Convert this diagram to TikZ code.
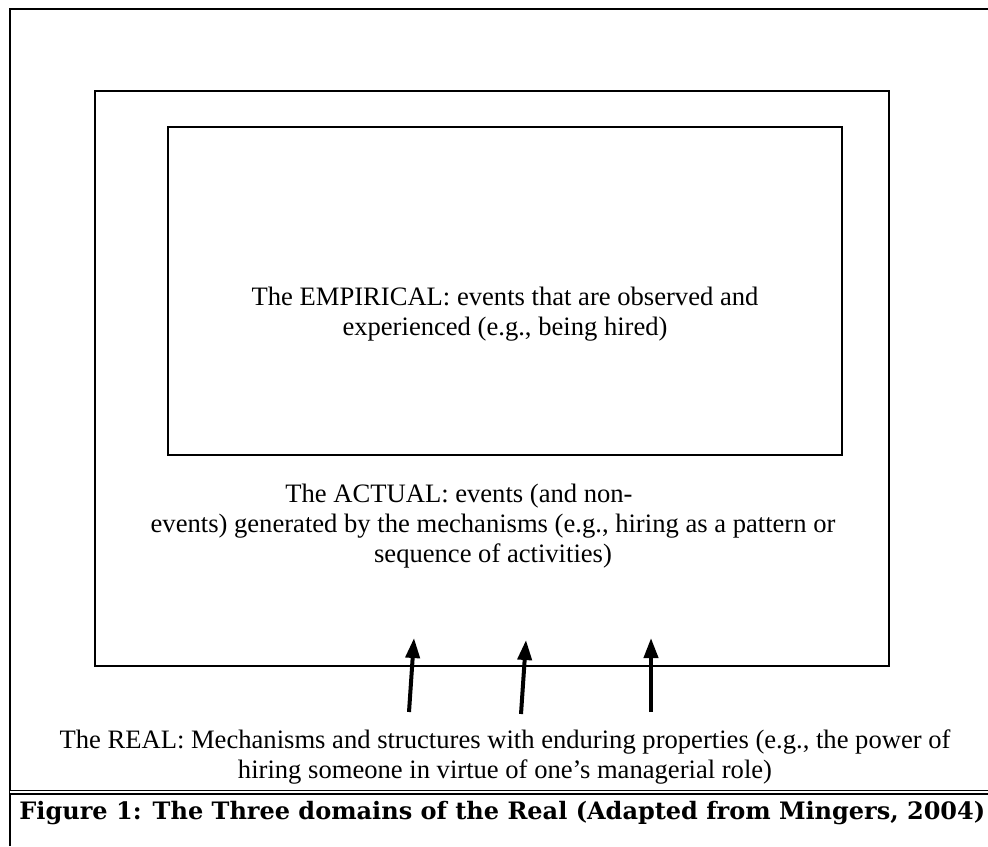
\documentclass[tikz,border=0pt]{standalone}
\usepackage{fontspec}
\setmainfont{Liberation Serif}
\newfontfamily\capfont{DejaVu Serif}
\usetikzlibrary{arrows.meta}

\begin{document}
\begin{tikzpicture}[x=0.5pt,y=-0.5pt,
    domainbox/.style={draw, line width=1pt, inner sep=0pt},
    domaintext/.style={align=center, inner sep=0pt, font=\fontsize{13.3}{15}\selectfont},
    genarrow/.style={line width=2pt, -{Triangle[length=10pt,width=7pt]}}]
    \useasboundingbox (0,0) rectangle (988,846);
    % frame and caption rule
    \draw[line width=1pt] (10,846) -- (10,9) -- (988,9);
    \draw[line width=0.75pt, double, double distance=1pt] (10,792) -- (988,792);
    % the three domains
    \node[domainbox, minimum width=397pt, minimum height=287.5pt] (actual) at (492,378.5) {};
    \node[domainbox, minimum width=337pt, minimum height=164pt] (empirical) at (505,291) {};
    \node[domaintext] (emptext) at (505,314) {The EMPIRICAL: events that are observed and\\experienced (e.g., being hired)};
    \node[domaintext] (acttext) at (493,526) {The ACTUAL: events (and non-\hspace*{34pt}\\events) generated by the mechanisms (e.g., hiring as a pattern or\\sequence of activities)};
    \node[domaintext] (realtext) at (505,757) {The REAL: Mechanisms and structures with enduring properties (e.g., the power of\\hiring someone in virtue of one's managerial role)};
    % mechanisms push up into the actual
    \coordinate (r1) at (409,712);
    \coordinate (a1) at (414,638);
    \coordinate (r2) at (521,714);
    \coordinate (a2) at (526,640);
    \coordinate (r3) at (651,712);
    \coordinate (a3) at (651,638);
    \draw[genarrow] (r1) -- (a1);
    \draw[genarrow] (r2) -- (a2);
    \draw[genarrow] (r3) -- (a3);
    \node[anchor=west, inner sep=0pt, font=\capfont\bfseries\fontsize{12}{14}\selectfont] (caption) at (19,813) {Figure 1: The Three domains of the Real (Adapted from Mingers, 2004)};
\end{tikzpicture}
\end{document}
